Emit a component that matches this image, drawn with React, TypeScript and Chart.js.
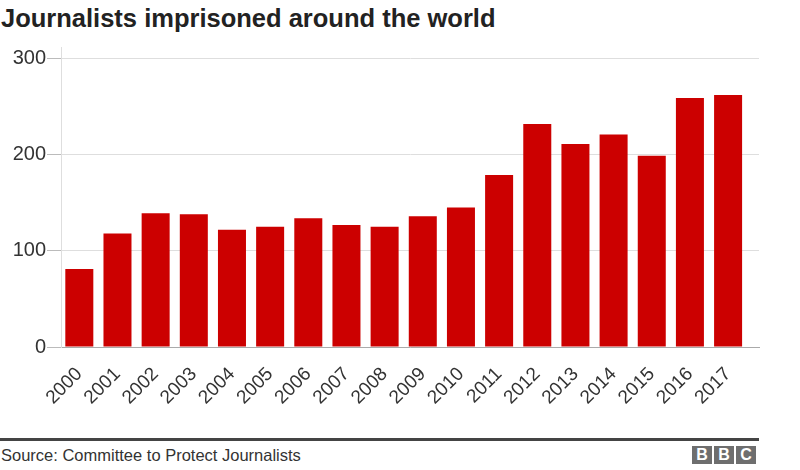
import { useEffect, useRef } from 'react'
import { Chart, registerables } from 'chart.js'

Chart.register(...registerables)

const years = [
  2000, 2001, 2002, 2003, 2004, 2005, 2006, 2007, 2008,
  2009, 2010, 2011, 2012, 2013, 2014, 2015, 2016, 2017,
]
const imprisoned = [81, 118, 139, 138, 122, 125, 134, 127, 125, 136, 145, 179, 232, 211, 221, 199, 259, 262]
const yTicks = [0, 100, 200, 300]

const FONT = '"Liberation Sans", Arial, Helvetica, sans-serif'
const RED = '#cc0000'

function BarChart() {
  const chartRef = useRef<HTMLCanvasElement>(null)
  const chartInstanceRef = useRef<Chart | null>(null)

  useEffect(() => {
    if (!chartRef.current) return
    const ctx = chartRef.current.getContext('2d')
    if (!ctx) return

    if (chartInstanceRef.current) {
      chartInstanceRef.current.destroy()
    }

    chartInstanceRef.current = new Chart(ctx, {
      type: 'bar',
      data: {
        datasets: [
          {
            label: 'Journalists imprisoned',
            data: years.map((y, i) => ({ x: y, y: imprisoned[i] })),
            backgroundColor: RED,
            borderWidth: 0,
            categoryPercentage: 1,
            barPercentage: 0.734,
          },
        ],
      },
      options: {
        animation: false,
        responsive: true,
        maintainAspectRatio: false,
        layout: { padding: { top: 7, right: 41, left: 0, bottom: 0 } },
        plugins: {
          legend: { display: false },
          tooltip: { enabled: false },
        },
        scales: {
          x: {
            type: 'linear',
            offset: false,
            min: 1999.52,
            max: 2017.81,
            afterBuildTicks: (axis) => {
              axis.ticks = years.map((v) => ({ value: v }))
            },
            afterFit: (axis) => {
              axis.height = 85
              axis.paddingLeft = 0
              axis.paddingRight = 0
            },
            ticks: {
              autoSkip: false,
              minRotation: 45,
              maxRotation: 45,
              padding: 16,
              color: '#333',
              font: { family: FONT, size: 19 },
              callback: (v) => String(v),
            },
            grid: { display: false, drawTicks: false, offset: false },
            border: { display: true, color: '#aaa', width: 1 },
          },
          y: {
            min: 0,
            max: 312,
            afterBuildTicks: (axis) => {
              axis.ticks = yTicks.map((v) => ({ value: v }))
            },
            afterFit: (axis) => {
              axis.width = 61
              axis.paddingTop = 0
              axis.paddingBottom = 0
            },
            ticks: {
              padding: 1,
              color: '#333',
              font: { family: FONT, size: 20 },
            },
            grid: { color: '#dedede', tickLength: 14, tickColor: '#bbb' },
            border: { display: true, color: '#dedede', width: 1 },
          },
        },
      },
    })

    return () => {
      chartInstanceRef.current?.destroy()
      chartInstanceRef.current = null
    }
  }, [])

  return <canvas ref={chartRef}></canvas>
}

export default function App() {
  const box = { width: 20, height: 18, background: '#6e6e6e', color: '#fff', fontWeight: 700, fontSize: 16, lineHeight: '18px', textAlign: 'center' as const }
  return (
    <div style={{ position: 'absolute', left: 0, top: 0, width: 800, height: 470, background: '#fff', fontFamily: FONT }}>
      <div style={{ position: 'absolute', left: 1, top: 6, fontSize: 25.5, lineHeight: '25.5px', fontWeight: 700, color: '#222', whiteSpace: 'nowrap' }}>
        Journalists imprisoned around the world
      </div>
      <div style={{ position: 'absolute', left: 0, top: 40, width: 800, height: 392 }}>
        <BarChart />
      </div>
      <div style={{ position: 'absolute', left: 0, top: 438, width: 759, height: 3, background: '#444' }} />
      <div style={{ position: 'absolute', left: 1, top: 447, fontSize: 16.5, lineHeight: '17px', color: '#333', whiteSpace: 'nowrap' }}>
        Source: Committee to Protect Journalists
      </div>
      <div style={{ position: 'absolute', left: 692, top: 446, display: 'flex', gap: 2 }}>
        <div style={box}>B</div>
        <div style={box}>B</div>
        <div style={box}>C</div>
      </div>
    </div>
  )
}
